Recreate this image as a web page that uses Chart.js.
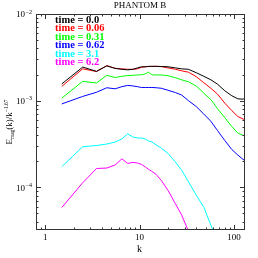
<!DOCTYPE html>
<html>
<head>
<meta charset="utf-8">
<script src="https://cdn.jsdelivr.net/npm/chart.js@4/dist/chart.umd.min.js"></script>
<style>
  html, body { margin: 0; padding: 0; background: #fff; }
  #wrap { width: 258px; height: 258px; }
</style>
</head>
<body>
<div id="wrap"><canvas id="spec" width="258" height="258"></canvas></div>
<script>
// wavenumbers of the spectrum bins
const kVals = [1.5, 2.5, 3.5, 4.5, 5.5, 6.5, 7.5, 8.5, 9.5, 10.5, 11.5, 12.5, 13.5,
  15, 17, 20, 24, 28, 33, 40, 48, 57, 67, 80, 95, 110, 125, 136];

// compensated magnetic spectra, one per output time
const spec0 = [1.56e-3, 2.44e-3, 2.18e-3, 2.52e-3, 2.36e-3, 2.30e-3, 2.27e-3, 2.30e-3, 2.39e-3, 2.46e-3, 2.46e-3, 2.49e-3, 2.49e-3,
  2.49e-3, 2.48e-3, 2.46e-3, 2.39e-3, 2.33e-3, 2.30e-3, 2.10e-3, 1.91e-3, 1.74e-3, 1.55e-3, 1.30e-3, 1.14e-3, 1.05e-3, 1.04e-3, 1.10e-3];
const spec1 = [1.46e-3, 2.33e-3, 2.17e-3, 2.54e-3, 2.36e-3, 2.33e-3, 2.30e-3, 2.30e-3, 2.33e-3, 2.43e-3, 2.46e-3, 2.48e-3, 2.48e-3,
  2.49e-3, 2.47e-3, 2.39e-3, 2.30e-3, 2.21e-3, 2.13e-3, 1.89e-3, 1.61e-3, 1.39e-3, 1.19e-3, 9.36e-4, 7.67e-4, 6.58e-4, 6.13e-4, 5.97e-4];
const spec2 = [1.07e-3, 1.67e-3, 1.60e-3, 1.96e-3, 1.85e-3, 1.91e-3, 1.95e-3, 1.96e-3, 1.98e-3, 1.99e-3, 2.04e-3, 2.13e-3, 1.99e-3,
  1.98e-3, 1.98e-3, 1.94e-3, 1.84e-3, 1.74e-3, 1.65e-3, 1.47e-3, 1.22e-3, 1.03e-3, 8.09e-4, 6.38e-4, 5.02e-4, 4.23e-4, 3.98e-4, 3.91e-4];
const spec3 = [9.17e-4, 1.12e-3, 1.25e-3, 1.41e-3, 1.37e-3, 1.45e-3, 1.50e-3, 1.48e-3, 1.45e-3, 1.42e-3, 1.42e-3, 1.42e-3, 1.42e-3,
  1.41e-3, 1.39e-3, 1.32e-3, 1.24e-3, 1.16e-3, 1.00e-3, 8.53e-4, 7.00e-4, 5.78e-4, 4.52e-4, 3.47e-4, 2.73e-4, 2.36e-4, 2.10e-4, 1.99e-4];
const spec4 = [1.73e-4, 2.94e-4, 3.04e-4, 3.16e-4, 3.33e-4, 3.63e-4, 4.14e-4, 3.81e-4, 3.71e-4, 3.71e-4, 3.61e-4, 3.42e-4, 3.34e-4,
  3.08e-4, 2.84e-4, 2.46e-4, 1.96e-4, 1.57e-4, 1.16e-4, 8.1e-5, 5.89e-5, 3.66e-5, 2.39e-5, 1.49e-5, null, null, null, null];
const spec5 = [5.84e-5, 1.13e-4, 1.65e-4, 1.67e-4, 1.81e-4, 2.13e-4, 1.89e-4, 1.94e-4, 1.91e-4, 1.84e-4, 1.72e-4, 1.61e-4, 1.53e-4,
  1.41e-4, 1.20e-4, 9.24e-5, 6.46e-5, 4.77e-5, 3.12e-5, 1.94e-5, null, null, null, null, null, null, null, null];

const seriesLabels = ['time = 0.0', 'time = 0.06', 'time = 0.31', 'time = 0.62', 'time = 3.1', 'time = 6.2'];
const seriesColors = ['#000000', '#ff0000', '#00ff00', '#0000ff', '#00ffff', '#ff00ff'];
const allSpectra = [spec0, spec1, spec2, spec3, spec4, spec5];

const xMajor = [1, 10, 100];
const xMajorLabels = ['1', '10', '100'];
const yMajor = [1e-2, 1e-3, 1e-4];
const yMajorExp = ['\u22122', '\u22123', '\u22124'];

// frame, inward ticks, labels and legend, drawn on top of the lines
const framePlugin = {
    id: 'frame',
    afterDatasetsDraw(chart) {
        const ctx = chart.ctx;
        const a = chart.chartArea;
        const xs = chart.scales.x;
        const ys = chart.scales.y;
        ctx.save();
        ctx.strokeStyle = '#333';
        ctx.lineWidth = 1;
        ctx.strokeRect(Math.round(a.left) + 0.5, Math.round(a.top) + 0.5,
            Math.round(a.right - a.left) - 1, Math.round(a.bottom - a.top) - 1);

        ctx.beginPath();
        // x ticks, bottom and top
        for (let e = -1; e <= 2; e++) {
            for (let m = 1; m <= 9; m++) {
                const v = m * Math.pow(10, e);
                if (v < xs.min || v > xs.max) continue;
                const px = Math.round(xs.getPixelForValue(v)) + 0.5;
                const len = m === 1 ? 5 : 2.5;
                ctx.moveTo(px, a.bottom); ctx.lineTo(px, a.bottom - len);
                ctx.moveTo(px, a.top); ctx.lineTo(px, a.top + len);
            }
        }
        // y ticks, left and right
        for (let e = -5; e <= -2; e++) {
            for (let m = 1; m <= 9; m++) {
                const v = m * Math.pow(10, e);
                if (v < ys.min || v > ys.max * 1.0001) continue;
                const py = Math.round(ys.getPixelForValue(v)) + 0.5;
                const len = m === 1 ? 5 : 2.5;
                ctx.moveTo(a.left, py); ctx.lineTo(a.left + len, py);
                ctx.moveTo(a.right, py); ctx.lineTo(a.right - len, py);
            }
        }
        ctx.stroke();

        ctx.fillStyle = '#000';
        // x tick labels
        ctx.font = '9px "Liberation Serif"';
        ctx.textAlign = 'center';
        ctx.textBaseline = 'middle';
        xMajor.forEach((v, i) => {
            ctx.fillText(xMajorLabels[i], xs.getPixelForValue(v), 238);
        });
        // x title
        ctx.font = '10px "Liberation Serif"';
        ctx.fillText('k', xs.getPixelForValue(10), 249);

        // y tick labels 10^n
        yMajor.forEach((v, i) => {
            const py = ys.getPixelForValue(v);
            ctx.font = '9px "Liberation Serif"';
            ctx.textAlign = 'right';
            ctx.fillText('10', 25, py + 1);
            ctx.font = '6px "Liberation Serif"';
            ctx.textAlign = 'left';
            ctx.fillText(yMajorExp[i], 25.5, py - 2);
        });

        // y title, rotated
        ctx.save();
        ctx.translate(10, 122);
        ctx.rotate(-Math.PI / 2);
        const parts = [
            ['E', '9px', 0],
            ['mag', '5.5px', 2.5],
            ['(k)/k', '9px', 0],
            ['\u22121.67', '5.5px', -3]
        ];
        let total = 0;
        parts.forEach(p => { ctx.font = p[1] + ' "Liberation Serif"'; total += ctx.measureText(p[0]).width; });
        let cx = -total / 2;
        ctx.textAlign = 'left';
        parts.forEach(p => {
            ctx.font = p[1] + ' "Liberation Serif"';
            ctx.fillText(p[0], cx, p[2]);
            cx += ctx.measureText(p[0]).width;
        });
        ctx.restore();

        // title
        ctx.font = '9px "Liberation Serif"';
        ctx.textAlign = 'center';
        ctx.fillText('PHANTOM B', 140, 6);

        // legend inside the plot
        ctx.font = 'bold 10.5px "Liberation Serif"';
        ctx.textAlign = 'left';
        seriesLabels.forEach((lab, i) => {
            ctx.fillStyle = seriesColors[i];
            ctx.fillText(lab, 55, 20 + i * 8.5);
        });
        ctx.restore();
    }
};

new Chart(document.getElementById('spec'), {
    type: 'line',
    data: {
        datasets: allSpectra.map((s, i) => ({
            label: seriesLabels[i],
            data: kVals.map((k, j) => ({ x: k, y: s[j] })),
            borderColor: seriesColors[i],
            borderWidth: 1,
            pointRadius: 0,
            tension: 0,
            spanGaps: false
        }))
    },
    options: {
        responsive: false,
        animation: false,
        devicePixelRatio: 1,
        layout: { padding: { left: 36, right: 13, top: 14, bottom: 28 } },
        plugins: { legend: { display: false }, tooltip: { enabled: false } },
        scales: {
            x: { type: 'logarithmic', display: false, min: 0.8, max: 131 },
            y: { type: 'logarithmic', display: false, min: 3.22e-5, max: 1e-2 }
        }
    },
    plugins: [framePlugin]
});
</script>
</body>
</html>
